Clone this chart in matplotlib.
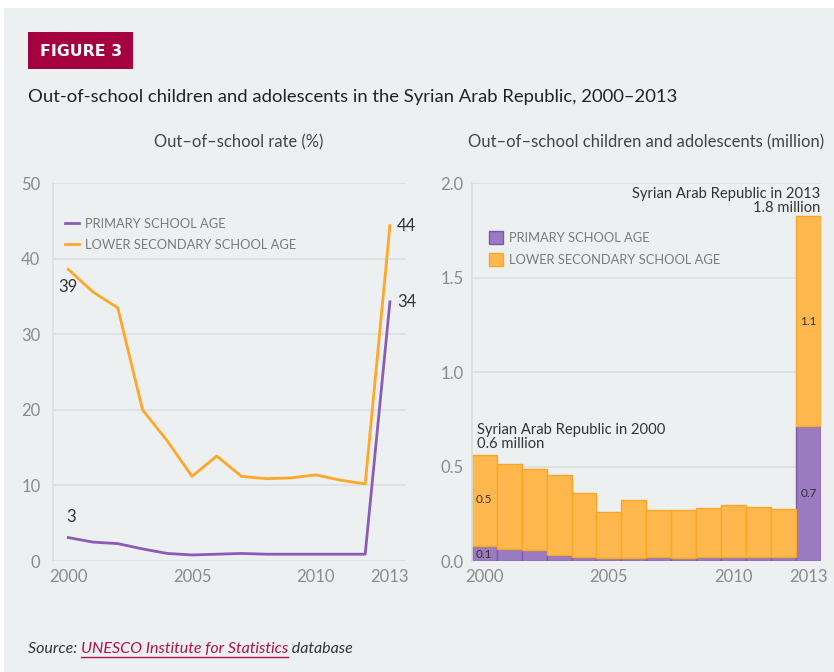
import numpy as np
import matplotlib
matplotlib.use("Agg")
import matplotlib.pyplot as plt
from matplotlib.patches import Rectangle

# ---- data ----
years = np.arange(2000, 2014)
rate_primary = [3.1, 2.5, 2.3, 1.6, 1.0, 0.8, 0.9, 1.0, 0.9, 0.9, 0.9, 0.9, 0.9, 34.3]
rate_lower_sec = [38.6, 35.6, 33.5, 20.0, 15.9, 11.2, 13.9, 11.2, 10.9, 11.0, 11.4, 10.7, 10.2, 44.4]
num_primary = [0.079, 0.062, 0.060, 0.030, 0.021, 0.014, 0.018, 0.019, 0.018, 0.019, 0.019, 0.019, 0.019, 0.715]
num_total = [0.561, 0.512, 0.485, 0.454, 0.360, 0.258, 0.321, 0.268, 0.268, 0.279, 0.295, 0.284, 0.274, 1.825]
num_lower_sec = [t - p for t, p in zip(num_total, num_primary)]
xticks = [2000, 2005, 2010, 2013]

BG = "#edf0f1"
PURPLE = "#8a5cb8"
ORANGE = "#ffa726"
BAR_PURPLE, BAR_PURPLE_EDGE = "#9b7bbf", "#7e57b0"
BAR_ORANGE, BAR_ORANGE_EDGE = "#ffb84d", "#f9a825"
CRIMSON = "#a5003f"
TICK = "#8a8a8a"
GRID = "#dcdfe1"

plt.rcParams["font.family"] = ["Lato", "DejaVu Sans"]

W, H = 834, 672
fig = plt.figure(figsize=(W / 100, H / 100), dpi=100)
fig.patch.set_facecolor("white")
fig.add_artist(Rectangle((4 / W, 0), 1, 1 - 8 / H, transform=fig.transFigure,
                         facecolor=BG, edgecolor="none", zorder=-10))


def fx(px):
    return px / W


def fy(py):
    return 1 - py / H


# header
fig.add_artist(Rectangle((fx(28), fy(69)), fx(105), 37 / H, transform=fig.transFigure,
                         facecolor=CRIMSON, edgecolor="none"))
fig.text(fx(40), fy(51), "FIGURE 3", color="white", fontsize=11.3, fontweight="heavy",
         va="center", ha="left", family=["DejaVu Sans"])
fig.text(fx(28), fy(97), "Out-of-school children and adolescents in the Syrian Arab Republic, 2000\u20132013",
         fontsize=13.3, color="#222222", va="center", ha="left")
fig.text(fx(239), fy(142), "Out\u2013of\u2013school rate (%)", fontsize=11.9, color="#444444",
         va="center", ha="center")
fig.text(fx(646), fy(142), "Out\u2013of\u2013school children and adolescents (million)", fontsize=12,
         color="#444444", va="center", ha="center")


def style_axes(ax):
    ax.set_facecolor("none")
    for s in ("top", "right", "bottom"):
        ax.spines[s].set_visible(False)
    ax.spines["left"].set_color(GRID)
    ax.spines["left"].set_linewidth(1.2)
    ax.tick_params(length=0, colors=TICK, labelsize=12, pad=6)
    ax.grid(axis="y", color=GRID, lw=1.2)
    ax.set_axisbelow(True)
    ax.set_xticks(xticks)
    ax.set_xticklabels([str(t) for t in xticks])


bottom = fy(561)
height = (561 - 183.3) / H
legend_font = {"size": 9.3}
label_font = dict(fontsize=12, color="#333333")
note_font = dict(fontsize=10.6, color="#333333")

# ---- left: rates ----
ax1 = fig.add_axes([fx(53), bottom, fx(353), height])
style_axes(ax1)
ax1.plot(years, rate_primary, color=PURPLE, lw=2, label="PRIMARY SCHOOL AGE", clip_on=False)
ax1.plot(years, rate_lower_sec, color=ORANGE, lw=2, label="LOWER SECONDARY SCHOOL AGE", clip_on=False)
ax1.set_xlim(1999.38, 2013.65)
ax1.set_ylim(0, 50)
ax1.set_yticks([0, 10, 20, 30, 40, 50])
ax1.tick_params(axis="y", pad=9)
ax1.legend(loc="upper left", bbox_to_anchor=(0.0, 0.94), frameon=False, prop=legend_font,
           handlelength=1.15, handletextpad=0.45, labelspacing=0.7, labelcolor="#7a7a7a")
ax1.annotate(f"{rate_lower_sec[0]:.0f}", (years[0], rate_lower_sec[0]), xytext=(0, -13),
             textcoords="offset points", ha="center", va="center", **label_font)
ax1.annotate(f"{rate_primary[0]:.0f}", (years[0], rate_primary[0]), xytext=(2, 15),
             textcoords="offset points", ha="center", va="center", **label_font)
ax1.annotate(f"{rate_lower_sec[-1]:.0f}", (years[-1], rate_lower_sec[-1]), xytext=(5, 0),
             textcoords="offset points", ha="left", va="center", annotation_clip=False, **label_font)
ax1.annotate(f"{rate_primary[-1]:.0f}", (years[-1], rate_primary[-1]), xytext=(5, 0),
             textcoords="offset points", ha="left", va="center", annotation_clip=False, **label_font)

# ---- right: numbers (stacked bars) ----
ax2 = fig.add_axes([fx(471.7), bottom, fx(349.3), height])
style_axes(ax2)
ax2.bar(years, num_primary, width=1.0, color=BAR_PURPLE, edgecolor=BAR_PURPLE_EDGE, lw=1,
        label="PRIMARY SCHOOL AGE")
ax2.bar(years, num_lower_sec, width=1.0, bottom=num_primary, color=BAR_ORANGE,
        edgecolor=BAR_ORANGE_EDGE, lw=1, label="LOWER SECONDARY SCHOOL AGE")
ax2.set_xlim(1999.5, 2013.5)
ax2.set_ylim(0, 2.0)
ax2.set_yticks([0, 0.5, 1.0, 1.5, 2.0])
ax2.set_yticklabels(["0.0", "0.5", "1.0", "1.5", "2.0"])
ax2.legend(loc="upper left", bbox_to_anchor=(0.015, 0.905), frameon=False, prop=legend_font,
           handlelength=1.15, handleheight=1.15, handletextpad=0.45, labelspacing=0.75,
           labelcolor="#7a7a7a")
for i in (0, len(years) - 1):
    ax2.text(years[i], num_primary[i] / 2 if i else 0.035, f"{num_primary[i]:.1f}",
             ha="center", va="center", fontsize=8.5, color="#333333")
    ax2.text(years[i], num_primary[i] + num_lower_sec[i] * (0.5 if i else 0.51),
             f"{num_lower_sec[i]:.1f}", ha="center", va="center", fontsize=8.5, color="#333333")
ax2.text(years[0] - 0.3, num_total[0] + 0.02,
         f"Syrian Arab Republic in {years[0]}\n{num_total[0]:.1f} million",
         ha="left", va="bottom", linespacing=1.0, **note_font)
ax2.text(years[-1] + 0.48, num_total[-1] + 0.005,
         f"Syrian Arab Republic in {years[-1]}\n{num_total[-1]:.1f} million",
         ha="right", va="bottom", linespacing=1.0, **note_font)

# ---- source line ----
src_y = fy(649)
src_font = dict(fontsize=11.5, style="italic", va="center")
t1 = fig.text(fx(28), src_y, "Source: ", color="#333333", **src_font)
fig.canvas.draw()
r = fig.canvas.get_renderer()
bb = t1.get_window_extent(r)
t2 = fig.text(bb.x1 / W, src_y, "UNESCO Institute for Statistics", color="#b0124f", **src_font)
bb2 = t2.get_window_extent(r)
fig.add_artist(plt.Line2D([bb2.x0 / W, bb2.x1 / W], [(bb2.y0 - 1) / H] * 2, color="#b0124f", lw=1,
                          transform=fig.transFigure))
fig.text(bb2.x1 / W, src_y, " database", color="#333333", **src_font)

fig.savefig("out.png", dpi=100, facecolor=fig.get_facecolor())
